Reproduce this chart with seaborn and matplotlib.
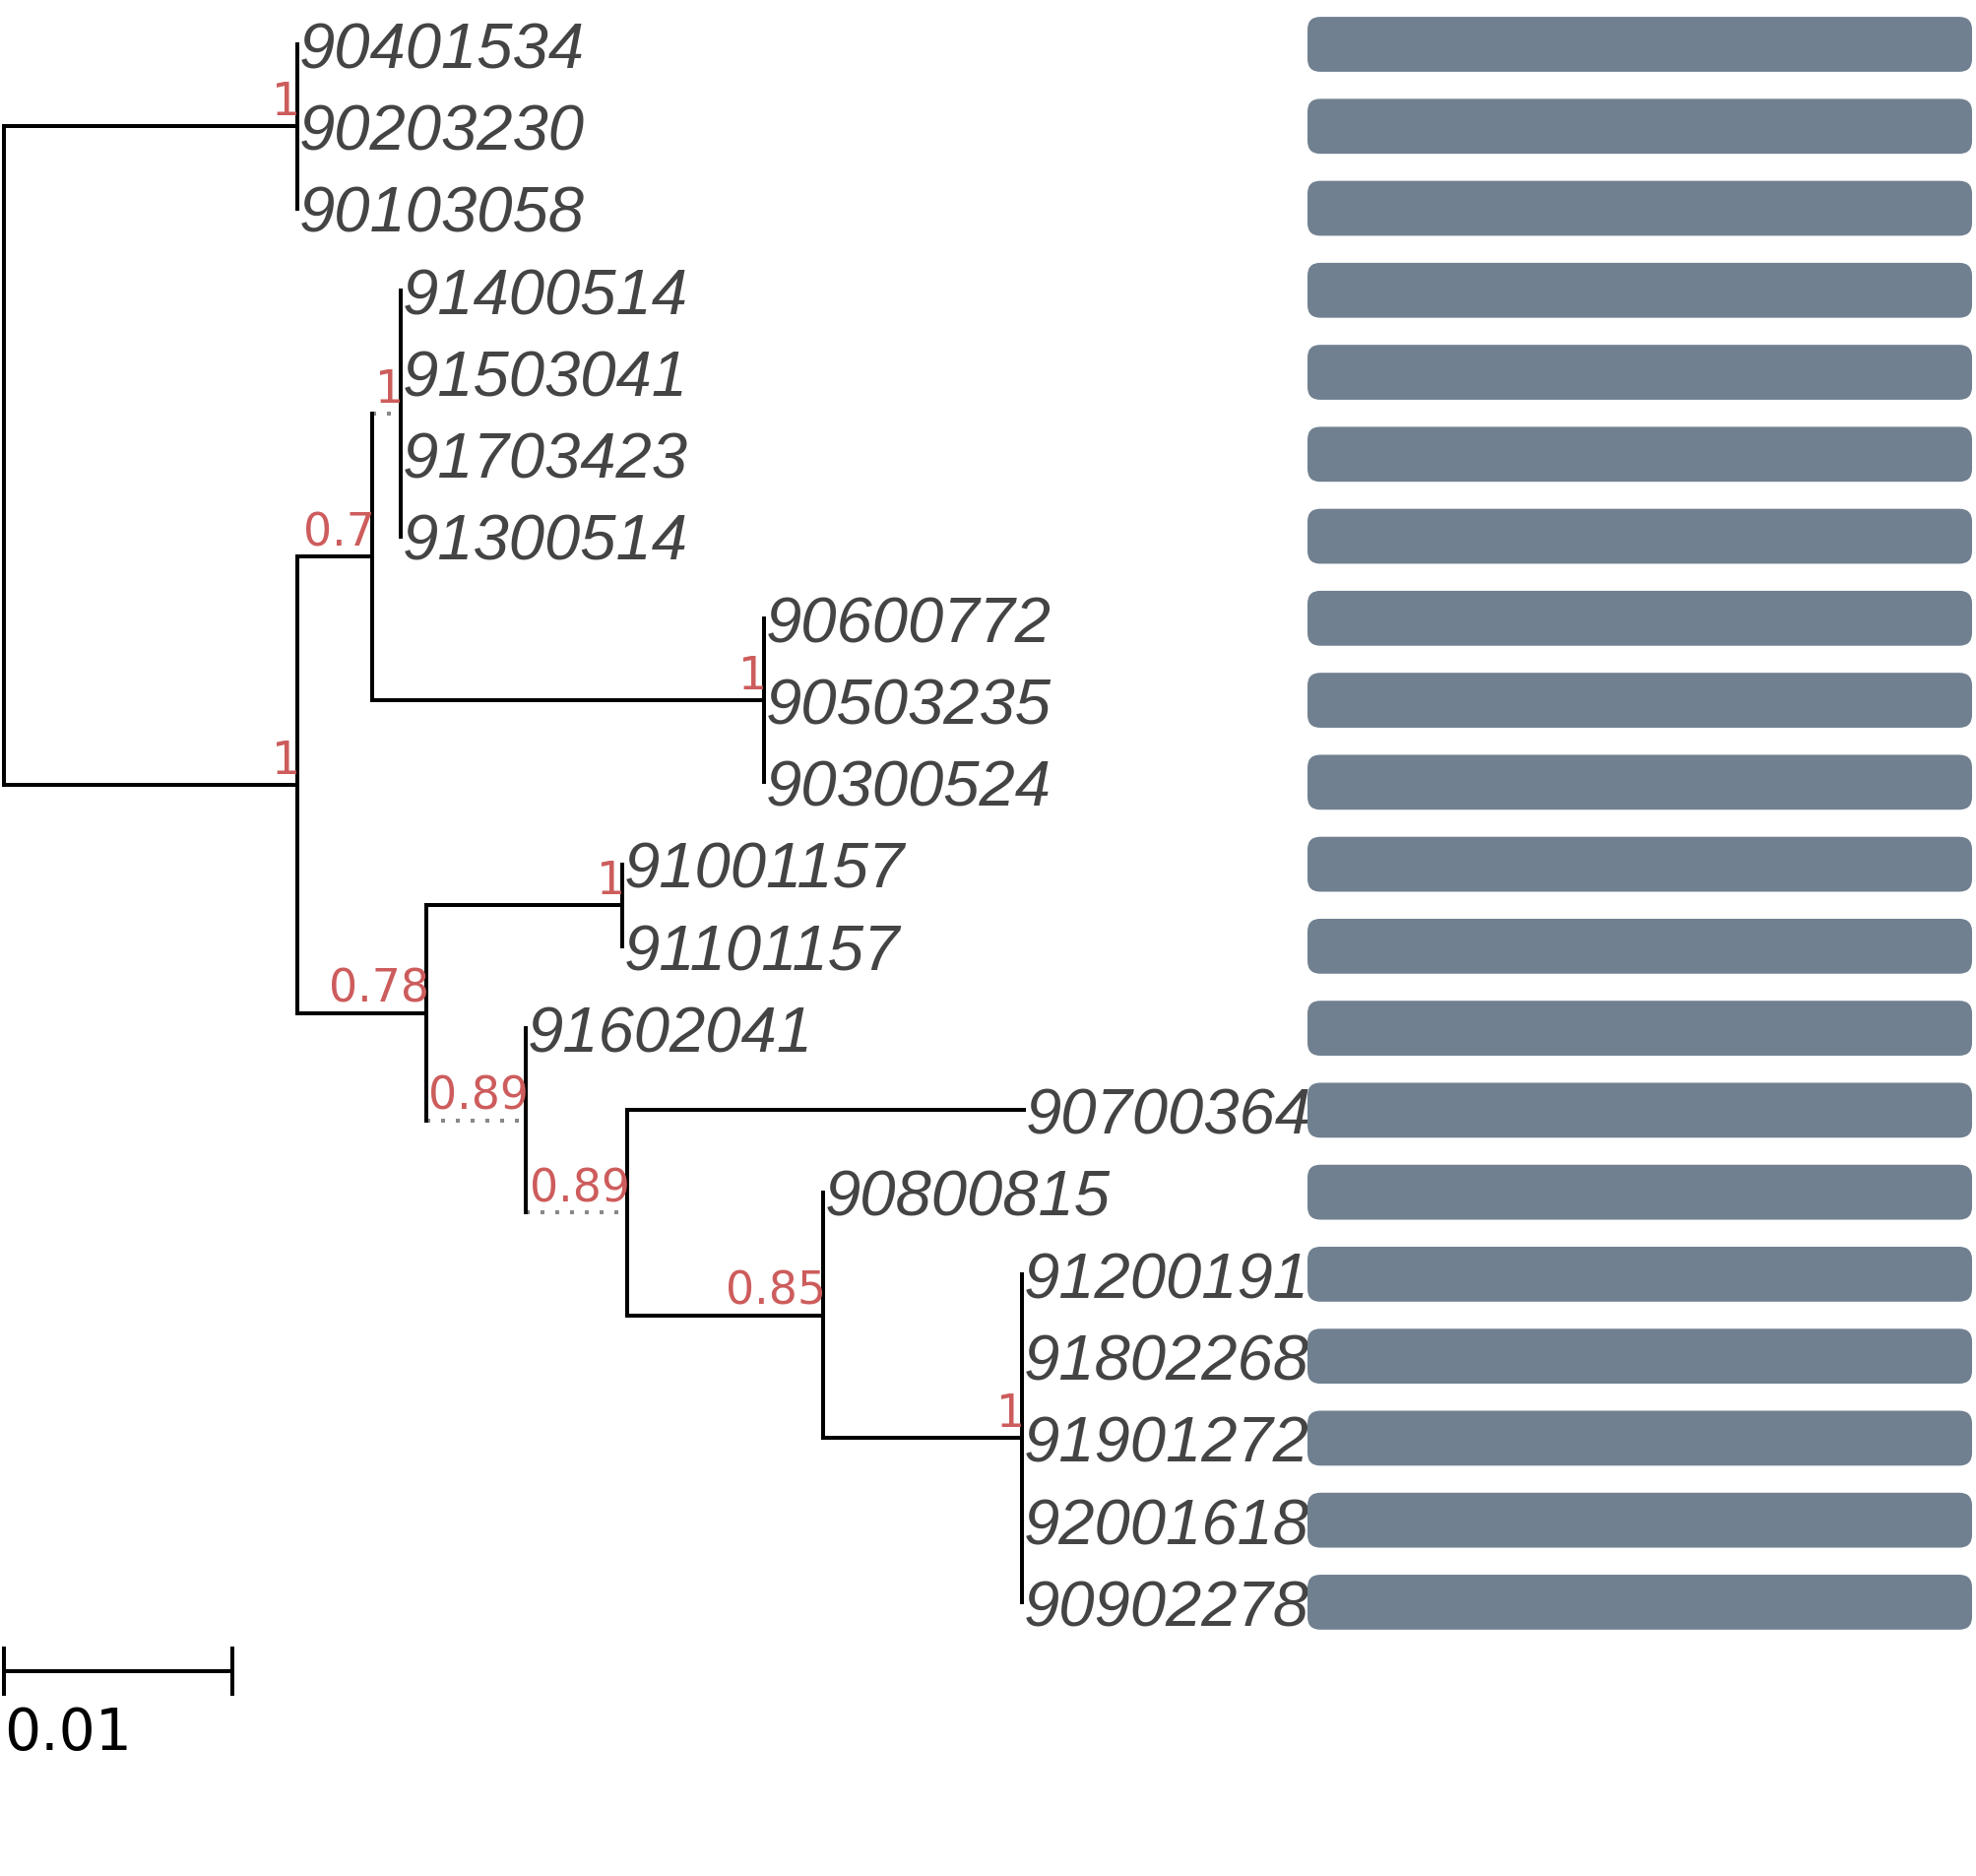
import numpy as np
import matplotlib
matplotlib.use("Agg")
import matplotlib.pyplot as plt
import seaborn as sns
from matplotlib.collections import LineCollection
from matplotlib.patches import FancyBboxPatch


sns.set_style("white")

# Leaves, top to bottom, with the clade they hang from and their branch length.
leaf_names = ["90401534", "90203230", "90103058",
              "91400514", "91503041", "91703423", "91300514",
              "90600772", "90503235", "90300524",
              "91001157", "91101157",
              "91602041", "90700364", "90800815",
              "91200191", "91802268", "91901272", "92001618", "90902278"]
leaf_parent = ["n1", "n1", "n1",
               "n4", "n4", "n4", "n4",
               "n5", "n5", "n5",
               "n7", "n7",
               "n8", "n9", "n10",
               "n11", "n11", "n11", "n11", "n11"]
leaf_branch = [0, 0, 0,
               0, 0, 0, 0,
               0, 0, 0,
               0, 0,
               0, 0.01737, 0,
               0, 0, 0, 0, 0]

# Internal nodes (parents listed before children).
node_names = ["root", "n1", "n2", "n3", "n4", "n5", "n6", "n7", "n8", "n9", "n10", "n11"]
node_parent = [None, "root", "root", "n2", "n3", "n3", "n2", "n6", "n6", "n8", "n9", "n10"]
node_branch = [0, 0.01284, 0.01284, 0.00328, 0.00125, 0.01716, 0.00565, 0.00858, 0.00435, 0.00444, 0.00858, 0.00871]
node_support = [None, 1, 1, 0.7, 1, 1, 0.78, 1, 0.89, 0.89, 0.85, 1]
dotted_nodes = ["n4", "n8", "n9"]

# Track on the right: one full bar per leaf.
bar_values = [1, 1, 1, 1, 1, 1, 1, 1, 1, 1, 1, 1, 1, 1, 1, 1, 1, 1, 1, 1]

scale_length = 0.01

W, H = 2007, 1906
px_per_unit = 23200.0
x0_px = 4.0
row_px = 83.26
row0_px = 46.0
lw = 2.88

fig = plt.figure(figsize=(W / 100, H / 100), dpi=100)
fig.patch.set_facecolor("white")
ax = fig.add_axes([0, 0, 1, 1])
ax.set_xlim(-x0_px / px_per_unit, (W - x0_px) / px_per_unit)
ax.set_ylim((H - row0_px) / row_px, -row0_px / row_px)
ax.axis("off")

# node x from branch lengths
node_x = {}
for n, p, b in zip(node_names, node_parent, node_branch):
    node_x[n] = b if p is None else node_x[p] + b

children = {n: [] for n in node_names}
for i, p in enumerate(leaf_parent):
    children[p].append(("leaf", i))
for n, p in zip(node_names, node_parent):
    if p is not None:
        children[p].append(("node", n))

node_y, node_span = {}, {}
for n in reversed(node_names):
    ys = [c if kind == "leaf" else node_y[c] for kind, c in children[n]]
    node_y[n] = float(np.mean(ys))
    node_span[n] = (min(ys), max(ys))

solid, dotted = [], []
for n, p in zip(node_names, node_parent):
    lo, hi = node_span[n]
    solid.append([(node_x[n], lo), (node_x[n], hi)])
    if p is not None:
        seg = [(node_x[p], node_y[n]), (node_x[n], node_y[n])]
        (dotted if n in dotted_nodes else solid).append(seg)

leaf_x = []
for i, (p, b) in enumerate(zip(leaf_parent, leaf_branch)):
    leaf_x.append(node_x[p] + b)
    if b > 0:
        solid.append([(node_x[p], i), (node_x[p] + b, i)])

ax.add_collection(LineCollection(solid, colors="black", linewidths=lw, capstyle="projecting", zorder=2))
for seg in dotted:
    (xa, ya), (xb, yb) = seg
    ax.plot([xa, xb], [ya, yb], color="#888888", lw=lw, linestyle=(0, (1, 2.75)),
            dash_capstyle="butt", zorder=1)

# support values
for n, s in zip(node_names, node_support):
    if s is None:
        continue
    ax.annotate(f"{s:g}", xy=(node_x[n], node_y[n]), xytext=(2, 8.6), textcoords="offset points",
                ha="right", va="baseline", color="#CD5C5C", fontsize=33, family="DejaVu Sans")

# leaf labels
for i, name in enumerate(leaf_names):
    ax.annotate(name, xy=(leaf_x[i], i), xytext=(1.5, -16.8), textcoords="offset points",
                ha="left", va="baseline", color="#444444", fontsize=47,
                family="Liberation Sans", style="italic")

# scale bar
sb_y = 19.84
ax.add_collection(LineCollection([[(0, sb_y), (scale_length, sb_y)],
                                  [(0, sb_y - 0.3), (0, sb_y + 0.3)],
                                  [(scale_length, sb_y - 0.3), (scale_length, sb_y + 0.3)]],
                                 colors="black", linewidths=lw, capstyle="butt"))
ax.annotate(f"{scale_length:g}", xy=(0, 20.79), xytext=(0, 0), textcoords="offset points",
            ha="left", va="baseline", fontsize=42, family="DejaVu Sans", color="black")

# bar track
bx0, bx1 = 1328, 2003
axb = fig.add_axes([bx0 / W, 0, (bx1 - bx0) / W, 1])
axb.patch.set_visible(False)
sns.barplot(x=bar_values, y=leaf_names, orient="h", color="#708090", saturation=1,
            width=0.67, ax=axb)
axb.set_xlim(0, 1)
axb.set_ylim((H - row0_px) / row_px, -row0_px / row_px)
radius_px = 13
rounding = radius_px / (bx1 - bx0)
aspect = (bx1 - bx0) / row_px
for p in list(axb.patches):
    x, y, w, h = p.get_x(), p.get_y(), p.get_width(), p.get_height()
    p.remove()
    axb.add_patch(FancyBboxPatch((x, y), w, h, boxstyle=f"round,pad=0,rounding_size={rounding}",
                                 mutation_aspect=aspect, facecolor="#708090", edgecolor="none",
                                 linewidth=0))
axb.axis("off")

fig.savefig("out.png", dpi=100, facecolor="white")
